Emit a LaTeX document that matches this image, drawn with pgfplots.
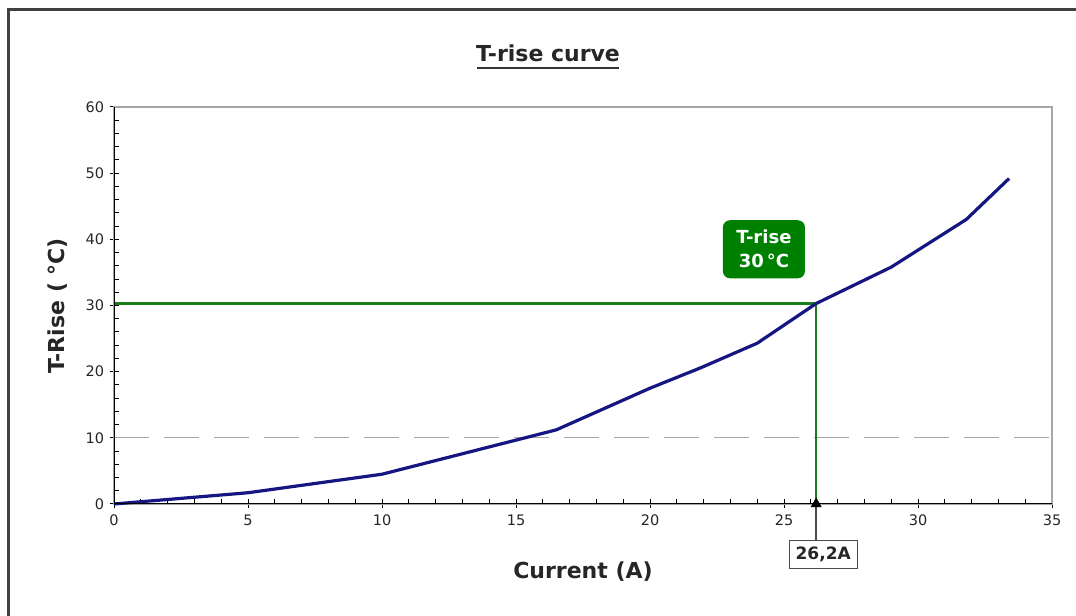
\documentclass[border=0pt]{standalone}
\usepackage{pgfplots}
\pgfplotsset{compat=1.18}
\usepackage{fontspec}
\setmainfont{DejaVu Sans}
\definecolor{navyc}{RGB}{22,22,130}
\definecolor{greenc}{RGB}{25,125,25}
\definecolor{boxg}{RGB}{0,128,0}
\begin{document}
\begin{tikzpicture}[x=1bp,y=1bp]
\useasboundingbox (0,0) rectangle (1076,616);
\draw[line width=3bp, color=black!75] (8,-2) -- (8,606) -- (1078,606);
\node[anchor=base, font=\fontsize{22bp}{26bp}\selectfont\bfseries, text=black!85] at (548,554) {T-rise curve};
\draw[line width=2.2bp, black!80] (477,548) -- (619,548);
\node[font=\fontsize{22bp}{26bp}\selectfont\bfseries, text=black!85] at (583,44) {Current (A)};
\node[rotate=90, font=\fontsize{22bp}{26bp}\selectfont\bfseries, text=black!85] at (58,310) {T-Rise ( °C)};
\begin{axis}[
  at={(114bp,112bp)}, anchor=south west,
  scale only axis, width=938bp, height=397bp,
  xmin=0, xmax=35, ymin=0, ymax=60,
  xtick={0,5,...,35}, ytick={0,10,...,60},
  minor x tick num=4, minor y tick num=4,
  tick pos=left,
  tick align=center,
  major tick length=9bp, minor tick length=5bp,
  minor x tick style={yshift=2.5bp}, minor y tick style={xshift=2.5bp},
  tick style={black, line width=1bp},
  axis line style={draw=gray!70, line width=1.2bp},
  ticklabel style={font=\fontsize{14.5bp}{16bp}\selectfont, text=black!85},
  xticklabel style={yshift=-3bp},
  yticklabel style={xshift=-2bp},
  /pgf/number format/assume math mode=true,
  clip=false,
]
\addplot[gray!70, line width=1.2bp, dash pattern=on 35bp off 15bp] coordinates {(0,10) (35,10)};
\addplot[greenc, line width=2.2bp] coordinates {(0,30.3) (26.2,30.3) (26.2,0)};
\addplot[navyc, line width=3.2bp, line join=round] coordinates {
(0,0) (5,1.7) (10,4.5) (16.5,11.2) (20,17.5) (21.9,20.6) (24,24.3) (26.2,30.3) (29,35.8) (31.8,43) (33.4,49.2)};
\draw[black, line width=1bp] (rel axis cs:0,0) -- (rel axis cs:1,0);
\draw[black, line width=1bp] (rel axis cs:0,0) -- (rel axis cs:0,1);
\draw[black!70, line width=1.5bp] (axis cs:26.2,0) -- ([yshift=-36bp]axis cs:26.2,0);
\addplot[only marks, mark=triangle*, mark size=6bp, black] coordinates {(26.2,0)};
\node[draw=black!70, line width=1.2bp, fill=white, anchor=north, inner xsep=5bp, inner ysep=4bp,
  minimum width=68bp, minimum height=28bp,
  font=\fontsize{17bp}{19bp}\selectfont\bfseries, text=black!85]
  at ([xshift=7bp,yshift=-36bp]axis cs:26.2,0) {26,2A};
\node[fill=boxg, rounded corners=7bp, text=white, align=center,
  minimum width=82bp, minimum height=58bp, inner sep=2bp,
  font=\fontsize{18bp}{24bp}\selectfont\bfseries]
  at (axis cs:24.25,38.5) {T-rise\\30\,°C};
\end{axis}
\end{tikzpicture}
\end{document}
